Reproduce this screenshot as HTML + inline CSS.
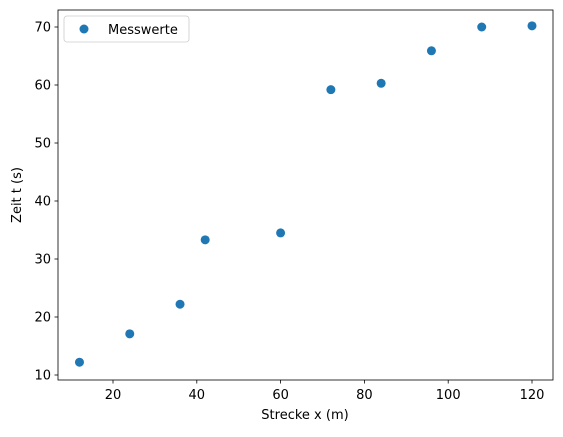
<!DOCTYPE html>
<html><head><meta charset="utf-8"><style>
body{margin:0;background:#fff;font-family:"Liberation Sans","DejaVu Sans",sans-serif;}
svg text{font-family:"DejaVu Sans","Liberation Sans",sans-serif;font-size:13px;fill:#000;}
</style></head><body>
<svg id="chart" width="563" height="432">
<rect x="58" y="10" width="495" height="370" fill="none" stroke="#000" stroke-width="0.8"/>
<g id="axes"></g><g id="marks"></g>
<text x="305" y="419" text-anchor="middle">Strecke x (m)</text>
<text transform="translate(21,195) rotate(-90)" text-anchor="middle">Zeit t (s)</text>
<g>
<rect x="64" y="16" width="125" height="26" rx="3" fill="#fff" stroke="#ccc" stroke-width="0.8"/>
<circle cx="84" cy="29" r="4.5" fill="#1f77b4"/>
<text x="108" y="34">Messwerte</text>
</g>
</svg>
<script>
const xValues=[12,24,36,42,60,72,84,96,108,120];
const yValues=[12.2,17.1,22.2,33.3,34.5,59.2,60.3,65.9,70,70.2];
const xTicks=[20,40,60,80,100,120];
const yTicks=[10,20,30,40,50,60,70];
const NS="http://www.w3.org/2000/svg";
function xs(v){return 29.2+v*4.19;}
function ys(v){return 375-(v-10)*5.8;}
const axes=document.getElementById('axes'),marks=document.getElementById('marks');
function mk(t,a,p){const e=document.createElementNS(NS,t);for(const k in a)e.setAttribute(k,a[k]);p.appendChild(e);return e;}
xTicks.forEach(t=>{const x=xs(t);
const l=mk('line',{x1:x,x2:x,y1:380,y2:383.5,stroke:'#000','stroke-width':0.8},axes);


const tx=mk('text',{x:x,y:399,'text-anchor':'middle'},axes);tx.textContent=t;

});
yTicks.forEach(t=>{const y=ys(t);
const l=mk('line',{x1:54.5,x2:58,y1:y,y2:y,stroke:'#000','stroke-width':0.8},axes);


const tx=mk('text',{x:51,y:y+4.5,'text-anchor':'end'},axes);tx.textContent=t;

});
xValues.forEach((v,i)=>{const c=mk('circle',{cx:xs(v),cy:ys(yValues[i]),r:4.5,fill:'#1f77b4'},marks);

});
</script>
</body></html>
